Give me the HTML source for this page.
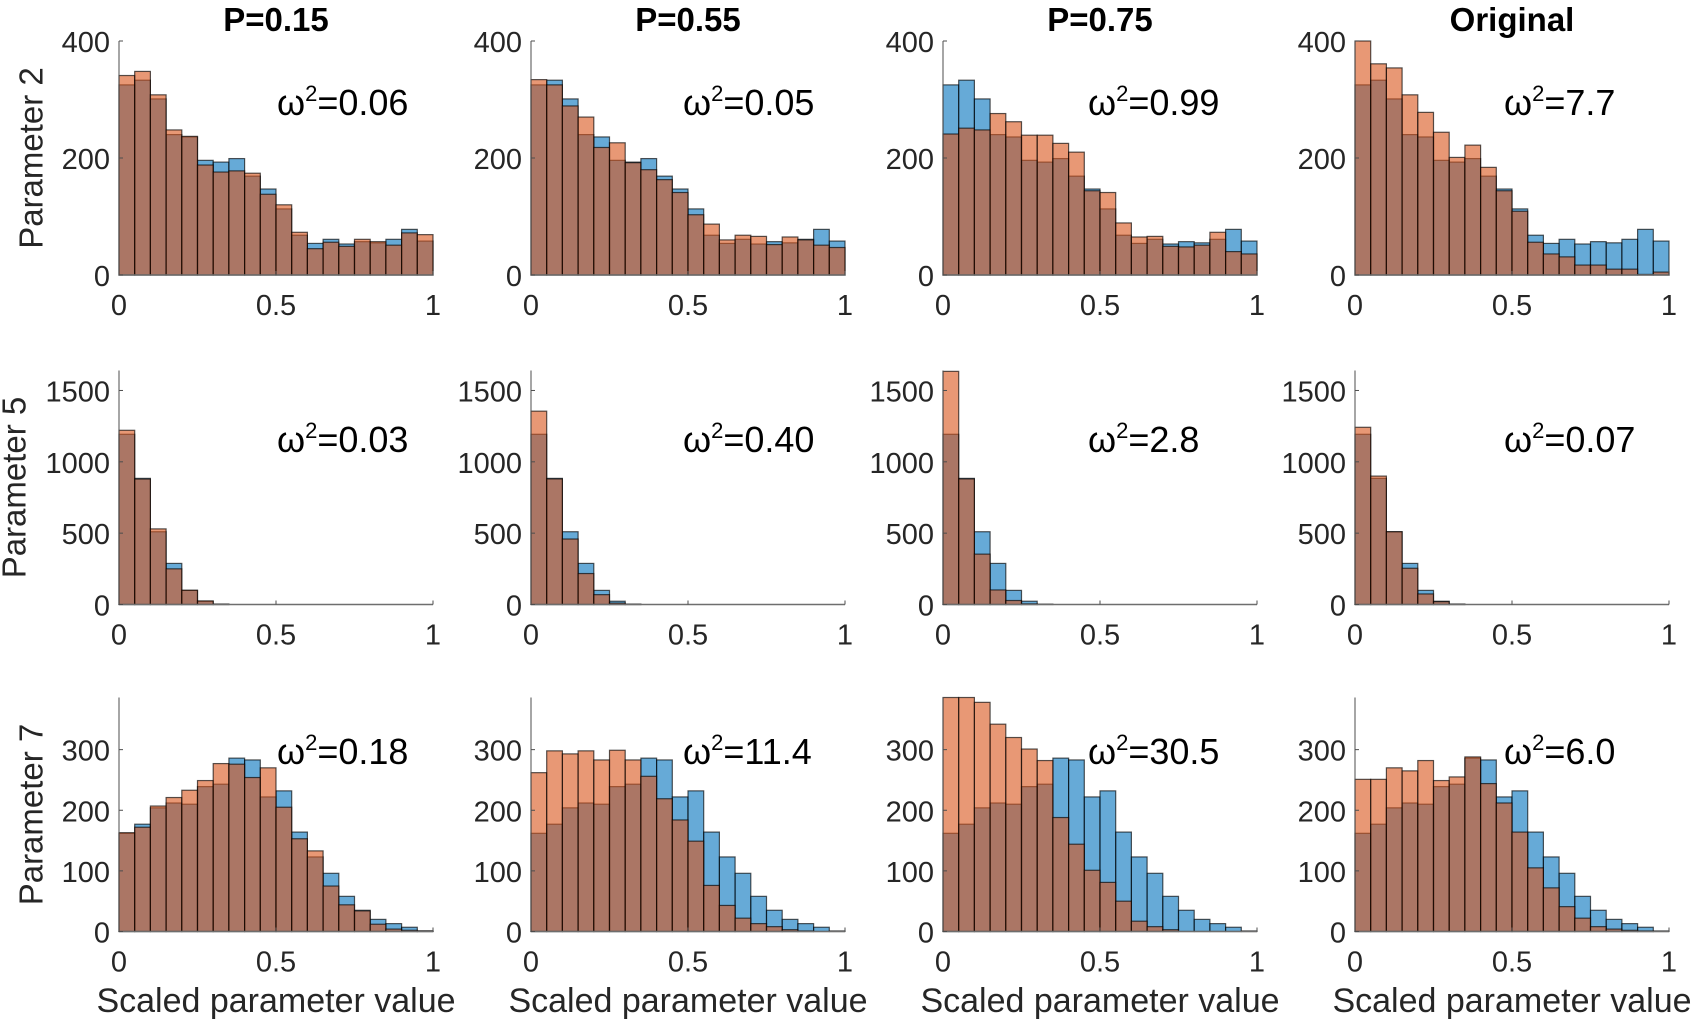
<!DOCTYPE html>
<html><head><meta charset="utf-8">
<style>
html,body{margin:0;padding:0;background:#fff;}
svg{display:block;font-family:"Liberation Sans",Arial,sans-serif;}
</style></head>
<body>
<svg id="fig" width="1693" height="1021" viewBox="0 0 1693 1021" xmlns="http://www.w3.org/2000/svg"></svg>
<script>
// ---- data (20 bins on [0,1]) ----
const colTitles = ["P=0.15", "P=0.55", "P=0.75", "Original"];
const rowLabels = ["Parameter 2", "Parameter 5", "Parameter 7"];
const rowYMax = [400, 1640, 386];
const row1Ticks = [0, 200, 400];
const row2Ticks = [0, 500, 1000, 1500];
const row3Ticks = [0, 100, 200, 300];
const xTicks = [0, 0.5, 1];
const xTickLabels = ["0", "0.5", "1"];

const row1Ref = [325,333,301,240,236,196,193,199,169,147,113,68,54,61,53,57,55,61,78,58];
const row1P015 = [341,348,308,248,237,188,176,178,174,138,120,73,45,56,49,61,57,51,72,69];
const row1P055 = [334,325,289,270,218,226,192,180,163,141,103,87,60,68,66,52,65,60,51,47];
const row1P075 = [241,251,248,276,262,239,239,225,210,144,141,89,65,66,49,48,51,73,40,36];
const row1Orig = [403,361,354,308,278,244,201,222,184,144,109,56,36,31,17,17,10,10,1,5];

const row2Ref = [1193,884,510,288,99,23,3,0,0,0,0,0,0,0,0,0,0,0,0,0];
const row2P015 = [1221,879,530,250,100,25,3,0,0,0,0,0,0,0,0,0,0,0,0,0];
const row2P055 = [1355,880,459,217,69,10,2,0,0,0,0,0,0,0,0,0,0,0,0,0];
const row2P075 = [1634,880,353,102,28,5,0,0,0,0,0,0,0,0,0,0,0,0,0,0];
const row2Orig = [1242,900,510,254,74,20,3,0,0,0,0,0,0,0,0,0,0,0,0,0];

const row3Ref = [162,177,204,212,210,239,243,286,283,222,232,164,123,96,58,35,20,13,7,1];
const row3P015 = [163,172,207,221,233,249,277,276,254,270,205,153,133,75,44,34,12,4,2,1];
const row3P055 = [262,298,293,298,283,299,283,256,219,184,149,76,43,22,13,8,3,1,0,0];
const row3P075 = [386,386,378,342,320,301,282,188,144,101,81,50,17,8,3,0,0,0,0,0];
const row3Orig = [251,251,270,265,282,249,255,288,244,212,164,105,72,41,22,8,4,2,1,0];

const omegaLabels = [
  ["0.06","0.05","0.99","7.7"],
  ["0.03","0.40","2.8","0.07"],
  ["0.18","11.4","30.5","6.0"]
];

// ---- layout ----
const NS = "http://www.w3.org/2000/svg";
const svg = document.getElementById("fig");
const colLeft = [119, 531, 943, 1355];
const plotW = 314;
const rowBottom = [275, 604.5, 931.5];
const plotH = 234;
const annX = [277, 683, 1088, 1504];
const annY = [115, 452, 764];
const ylabX = [34, 17, 34];
const rowTicks = [row1Ticks, row2Ticks, row3Ticks];
const rowRefs = [row1Ref, row2Ref, row3Ref];
const rowOrange = [[row1P015,row1P055,row1P075,row1Orig],[row2P015,row2P055,row2P075,row2Orig],[row3P015,row3P055,row3P075,row3Orig]];

function el(tag, attrs, parent) {
  const e = document.createElementNS(NS, tag);
  for (const k in attrs) e.setAttribute(k, attrs[k]);
  (parent || svg).appendChild(e);
  return e;
}

for (let r = 0; r < 3; r++) {
  const yl = el("text", {x: ylabX[r], y: rowBottom[r] - plotH/2, "font-size": 33, fill: "#262626", "text-anchor": "middle",
    transform: `rotate(-90 ${ylabX[r]} ${rowBottom[r] - plotH/2})`, "dominant-baseline": "middle"});
  
  
  yl.textContent = rowLabels[r];

  for (let c = 0; c < 4; c++) {
    const x0 = colLeft[c], yb = rowBottom[r], ymax = rowYMax[r];
    const xs = v => x0 + v * plotW;
    const ys = v => yb - (Math.min(v, ymax) / ymax) * plotH;
    const g = el("g", {});
    
    

    if (r === 0) {
      const t = el("text", {x: x0 + plotW/2, y: 31, "font-size": 33, "font-weight": "bold", fill: "#000", "text-anchor": "middle"}, g);
      
      
      t.textContent = colTitles[c];
    }
    const n = 20, bw = 1 / n;
    const series = [[rowRefs[r], "rgba(0,114,189,0.6)", "blue"], [rowOrange[r][c], "rgba(217,83,25,0.6)", "orange"]];
    series.forEach(([vals, fill, nm]) => {
      vals.forEach((v, i) => {
        if (v <= 0) return;
        const xa = xs(i * bw), xb = xs((i + 1) * bw);
        const b = el("rect", {x: xa, y: ys(v), width: xb - xa, height: yb - ys(v), fill: fill, stroke: "rgba(0,0,0,0.65)", "stroke-width": 1.2}, g);
        
        
      });
    });
    const ax = el("line", {x1: x0, y1: yb - plotH, x2: x0, y2: yb, stroke: "#4d4d4d", "stroke-width": 1}, g);
    
    
    const bx = el("line", {x1: x0, y1: yb, x2: x0 + plotW, y2: yb, stroke: "#6e6e6e", "stroke-width": 1.5}, g);
    
    
    rowTicks[r].forEach(tv => {
      const y = ys(tv);
      el("line", {x1: x0, y1: y, x2: x0 + 4, y2: y, stroke: "#4d4d4d", "stroke-width": 1}, g);
      const tl = el("text", {x: x0 - 9, y: y + 11, "font-size": 29, fill: "#262626", "text-anchor": "end"}, g);
      
      
      tl.textContent = String(tv);
    });
    xTicks.forEach((tv, i) => {
      const x = xs(tv);
      el("line", {x1: x, y1: yb, x2: x, y2: yb - 4, stroke: "#4d4d4d", "stroke-width": 1}, g);
      const tl = el("text", {x: x, y: yb + 40, "font-size": 29, fill: "#262626", "text-anchor": "middle"}, g);
      
      
      tl.textContent = xTickLabels[i];
    });
    const a = el("text", {x: annX[c], y: annY[r], "font-size": 36, fill: "#000"}, g);
    
    
    const t1 = el("tspan", {}, a); t1.textContent = "ω";
    const t2 = el("tspan", {"font-size": 22, dy: -14}, a); t2.textContent = "2";
    const t3 = el("tspan", {dy: 14}, a); t3.textContent = "=" + omegaLabels[r][c];
    if (r === 2) {
      const xl = el("text", {x: x0 + plotW/2, y: 1012, "font-size": 34, fill: "#262626", "text-anchor": "middle"}, g);
      
      
      xl.textContent = "Scaled parameter value";
    }
  }
}
</script>
</body></html>
